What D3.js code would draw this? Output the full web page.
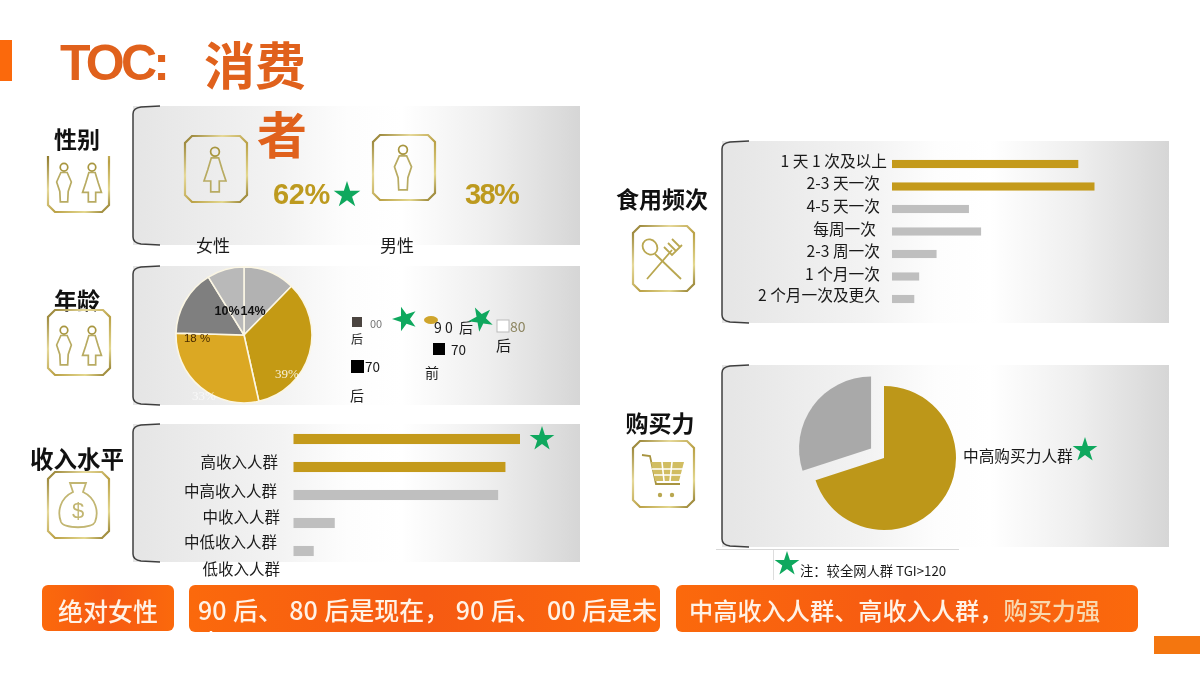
<!DOCTYPE html>
<html><head><meta charset="utf-8">
<script src="https://cdn.jsdelivr.net/npm/d3@7/dist/d3.min.js"></script>
<style>
html,body{margin:0;padding:0;background:#fff}
svg{display:block;filter:blur(0.35px)}
text{font-family:"Noto Sans CJK SC","Noto Sans",sans-serif}
</style></head><body><svg id="c" width="1200" height="675" viewBox="0 0 1200 675"></svg>
<script>
const genderLabels = ["女性", "男性"];
const genderValues = [62, 38];
const ageLabels = ["14%", "39%", "33%", "18 %", "10%"];
const ageValues = [14, 39, 33, 18, 10];
const incomeLabels = ["高收入人群", "中高收入人群", "中收入人群", "中低收入人群", "低收入人群"];
const incomeValues = [56, 52.4, 50.6, 10.2, 5];
const freqLabels = ["1 天 1 次及以上", "2-3 天一次", "4-5 天一次", "每周一次", "2-3 周一次", "1 个月一次", "2 个月一次及更久"];
const freqValues = [46, 50, 19, 22, 11, 6.7, 5.5];
const powerLabels = ["中高购买力人群", "其他"];
const powerValues = [70, 30];
const summaries = ["绝对女性", "90 后、 80 后是现在， 90 后、 00 后是未", "中高收入人群、高收入人群，", "购买力强"];

const GOLD = "#c49a1b", GREY = "#bfbfbf", ORANGE = "#fb690c", TITLE = "#e0611c", GREEN = "#0fa85e";
const svg = d3.select("#c");
const defs = svg.append("defs");
const pg = defs.append("linearGradient").attr("id", "panel");
[[0,"#e5e5e5"],[.33,"#f3f3f3"],[.48,"#fdfdfd"],[.6,"#ffffff"],[.8,"#eeeeee"],[1,"#d6d6d6"]].forEach(s => pg.append("stop").attr("offset", s[0]).attr("stop-color", s[1]));
const ig = defs.append("linearGradient").attr("id", "gold").attr("x1", 0).attr("y1", 0).attr("x2", 1).attr("y2", 1);
[[0,"#8f7a2c"],[.3,"#e6d99a"],[.55,"#b9a045"],[.8,"#e4d890"],[1,"#8a7424"]].forEach(s => ig.append("stop").attr("offset", s[0]).attr("stop-color", s[1]));
const bg = defs.append("linearGradient").attr("id", "ban");
[[0,"#fb690c"],[.5,"#f65a12"],[1,"#fb690c"]].forEach(s => bg.append("stop").attr("offset", s[0]).attr("stop-color", s[1]));

function txt(s, x, y, size, o = {}) {
  const t = svg.append("text").attr("x", x).attr("y", y).attr("font-size", size)
    .attr("text-anchor", o.anchor || "start").attr("dominant-baseline", "central")
    .attr("fill", o.fill || "#1a1a1a").attr("font-weight", o.weight || 400).text(s);
  if (o.family) t.style("font-family", o.family);
  if (o.ls !== undefined) t.attr("letter-spacing", o.ls);
  if (o.ws !== undefined) t.attr("word-spacing", o.ws);
  if (o.op) t.attr("opacity", o.op);
  t.style("white-space", "pre");
  return t;
}
function panel(x, y, w, h) {
  svg.append("rect").attr("x", x).attr("y", y).attr("width", w).attr("height", h).attr("fill", "url(#panel)");
  svg.append("path").attr("fill", "none").attr("stroke", "#3f3f3f").attr("stroke-width", 1.5)
    .attr("d", `M${x+27},${y} L${x+8},${y+1} Q${x},${y+2} ${x},${y+8} L${x},${y+h-8} Q${x},${y+h-2} ${x+8},${y+h-1} L${x+27},${y+h}`);
}
function box(x, y, w, h, openTop) {
  const c = 7;
  const d = openTop
    ? `M${x},${y} L${x},${y+h-c} L${x+c},${y+h} L${x+w-c},${y+h} L${x+w},${y+h-c} L${x+w},${y}`
    : `M${x+c},${y} L${x+w-c},${y} L${x+w},${y+c} L${x+w},${y+h-c} L${x+w-c},${y+h} L${x+c},${y+h} L${x},${y+h-c} L${x},${y+c} Z`;
  svg.append("path").attr("d", d).attr("fill", "none").attr("stroke", "url(#gold)").attr("stroke-width", 2.2);
}
const F = "M-3,-10 L3,-10 L6,0 L9,9 L3.5,9 L3.5,18 L-3.5,18 L-3.5,9 L-9,9 L-6,0 Z";
const M = "M-3,-10 L3,-10 L7,-1 L4,8 L3.5,18 L-3.5,18 L-4,8 L-7,-1 Z";
function person(cx, cy, k, kind) {
  const g = svg.append("g").attr("transform", `translate(${cx},${cy}) scale(${k})`)
    .attr("fill", "none").attr("stroke", "#b8ab62").attr("stroke-width", 1.7 / k);
  g.append("circle").attr("cy", -15).attr("r", 3.6).attr("stroke", "#a8963f");
  g.append("path").attr("d", kind === "f" ? F : M);
}
function star(cx, cy, r, rot = 0) {
  svg.append("path").attr("d", d3.symbol(d3.symbolStar, r * r / 0.8908)())
    .attr("transform", `translate(${cx},${cy}) rotate(${rot})`).attr("fill", GREEN);
}

/* header */
svg.append("rect").attr("x", 0).attr("y", 40).attr("width", 12).attr("height", 41).attr("fill", "#fb690c");
svg.append("rect").attr("x", 1154).attr("y", 636).attr("width", 46).attr("height", 18).attr("fill", "#f4760f");
txt("TOC:", 60, 63, 50, {fill: TITLE, weight: 700, family: "Liberation Sans", ls: -3.8});

/* panels */
panel(133, 106, 447, 139);
panel(133, 266, 447, 139);
panel(133, 424, 447, 138);
panel(722, 141, 447, 182);
panel(722, 365, 447, 182);

txt("消费", 204, 63, 51, {fill: TITLE, weight: 700});
txt("者", 257, 132, 50, {fill: TITLE, weight: 700});

/* left captions + icons */
const cap = {anchor: "middle", weight: 700, fill: "#111"};
txt("性别", 77, 138, 23, cap);
box(48, 156, 61, 56, true); person(64, 183, 1.05, "m"); person(92, 183, 1.05, "f");
txt("年龄", 77, 299, 23, cap);
box(48, 310, 62, 65); person(64, 346, 1.05, "m"); person(92, 346, 1.05, "f");
txt("收入水平", 77, 458, 23.5, cap);
box(48, 472, 61, 66);
svg.append("path").attr("d", "M70,483 L86,483 L83,492 C96,498 99,512 95,522 C92,529 64,529 61,522 C57,512 60,498 73,492 Z")
  .attr("fill", "none").attr("stroke", "#c2b672").attr("stroke-width", 1.8);
txt("$", 78, 510, 22, {anchor: "middle", fill: "#c2b672", family: "Liberation Sans"});
txt("食用频次", 662, 198, 23, cap);
box(633, 226, 61, 65);
svg.append("g").attr("fill", "none").attr("stroke", "#b9a750").attr("stroke-width", 1.8).call(g => {
  g.append("ellipse").attr("cx", 650).attr("cy", 247).attr("rx", 7).attr("ry", 8).attr("transform", "rotate(-40 650 247)");
  g.append("path").attr("d", "M655,254 L681,279");
  g.append("path").attr("d", "M647,279 L672,250 M664,247 L672,255 L682,245 M668,243 L676,251 M672,239 L680,247");
});
txt("购买力", 660, 422, 23, cap);
box(633, 441, 61, 66);
svg.append("g").call(g => {
  g.append("path").attr("d", "M642,455 L650,456 L656,484 L680,484").attr("fill", "none").attr("stroke", "#a89440").attr("stroke-width", 1.8);
  g.append("path").attr("d", "M651,462 L684,462 L679,481 L655,481 Z").attr("fill", "#d1bd62");
  g.append("path").attr("d", "M652,469 L683,469 M654,475 L681,475 M662,462 L664,481 M672,462 L670,481").attr("stroke", "#fff").attr("stroke-width", 1.6);
  g.append("circle").attr("cx", 660).attr("cy", 495).attr("r", 2.2).attr("fill", "#b9a750");
  g.append("circle").attr("cx", 672).attr("cy", 495).attr("r", 2.2).attr("fill", "#b9a750");
});

/* gender */
box(185, 136, 62, 66); person(215, 170, 1.22, "f");
box(373, 135, 62, 65); person(403, 168, 1.22, "m");
txt(genderValues[0] + "%", 273, 194, 29, {fill: "#bd9a1f", weight: 700, family: "Liberation Sans", ls: -0.4});
star(347, 195, 14);
txt(genderValues[1] + "%", 465, 194, 29, {fill: "#bd9a1f", weight: 700, family: "Liberation Sans", ls: -1.6});
txt(genderLabels[0], 213, 244, 17, {anchor: "middle"});
txt(genderLabels[1], 397, 244, 17, {anchor: "middle"});

/* age pie */
const agePie = d3.pie().sort(null)(ageValues);
const ageColors = ["#b2b2b2", "#c49a14", "#dba823", "#7f7f7f", "#b9b9b9"];
const ageArc = d3.arc().innerRadius(0).outerRadius(68);
svg.append("g").attr("transform", "translate(244,335)").selectAll("path").data(agePie).join("path")
  .attr("d", ageArc).attr("fill", (d, i) => ageColors[i]).attr("stroke", "#fbf6e4").attr("stroke-width", 1.6);
txt(ageLabels[4], 227, 311, 12.5, {anchor: "middle", weight: 700, fill: "#111", family: "Liberation Sans"});
txt(ageLabels[0], 253, 311, 12.5, {anchor: "middle", weight: 700, fill: "#111", family: "Liberation Sans"});
txt(ageLabels[3], 197, 338, 11.5, {anchor: "middle", fill: "#4a2c00", family: "Liberation Sans"});
txt(ageLabels[1], 287, 373, 13, {anchor: "middle", fill: "#fff", op: .85, family: "Liberation Serif"});
txt(ageLabels[2], 204, 395, 13, {anchor: "middle", fill: "#fff", op: .65, family: "Liberation Serif"});

/* age legend (as printed) */
svg.append("rect").attr("x", 352).attr("y", 317).attr("width", 10).attr("height", 10).attr("fill", "#4b4440");
txt("00", 370, 323, 11, {fill: "#777"});
txt("后", 351, 338, 12);
star(405, 319, 13, -18);
svg.append("ellipse").attr("cx", 431).attr("cy", 320).attr("rx", 7).attr("ry", 4).attr("fill", "#cfa52c");
txt("9 0  后", 434, 327, 14);
star(481, 319, 13, -28);
svg.append("rect").attr("x", 497).attr("y", 320).attr("width", 12).attr("height", 12).attr("fill", "#fff").attr("stroke", "#bbb");
txt("80", 510, 326, 14, {fill: "#8c8560"});
txt("后", 496, 344, 15);
svg.append("rect").attr("x", 433).attr("y", 343).attr("width", 12).attr("height", 12).attr("fill", "#000");
txt("70", 451, 349, 13.5);
txt("前", 425, 372, 14);
svg.append("rect").attr("x", 351).attr("y", 360).attr("width", 13).attr("height", 13).attr("fill", "#000");
txt("70", 365, 366, 13.5);
txt("后", 350, 395, 14);

/* income bars */
const xIncome = d3.scaleLinear().domain([0, 56]).range([293.5, 520]);
const yIncome = d3.scaleBand().domain(incomeLabels).range([425, 565]).paddingInner(.64).paddingOuter(.32);
svg.selectAll(".inc").data(incomeValues).join("rect").attr("class", "inc")
  .attr("x", xIncome(0)).attr("y", (d, i) => yIncome(incomeLabels[i]))
  .attr("width", d => xIncome(d) - xIncome(0)).attr("height", yIncome.bandwidth())
  .attr("fill", (d, i) => i < 2 ? GOLD : GREY);
star(542, 439, 13);
const incomeLabelRight = [278, 277, 280, 277, 280];
const incomeLabelMid = [461, 490, 516, 541, 568];
incomeLabels.forEach((s, i) => txt(s, incomeLabelRight[i], incomeLabelMid[i], 15.5, {anchor: "end"}));

/* frequency bars */
const xFreq = d3.scaleLinear().domain([0, 50]).range([892, 1094.5]);
const yFreq = d3.scaleBand().domain(freqLabels).range([152.75, 310.25]).paddingInner(.64).paddingOuter(.32);
svg.selectAll(".frq").data(freqValues).join("rect").attr("class", "frq")
  .attr("x", xFreq(0)).attr("y", (d, i) => yFreq(freqLabels[i]))
  .attr("width", d => xFreq(d) - xFreq(0)).attr("height", yFreq.bandwidth())
  .attr("fill", (d, i) => i < 2 ? GOLD : GREY);
const freqLabelRight = [887, 880, 880, 876, 880, 880, 880];
const freqLabelMid = [160, 182, 205, 228, 250, 273, 294];
freqLabels.forEach((s, i) => txt(s, freqLabelRight[i], freqLabelMid[i], 15.7, {anchor: "end"}));

/* purchasing power pie */
const powPie = d3.pie().sort(null)(powerValues);
const powArc = d3.arc().innerRadius(0).outerRadius(72);
svg.append("g").attr("transform", "translate(884,458)").selectAll("path").data(powPie).join("path")
  .attr("d", powArc).attr("fill", (d, i) => i ? "#a9a9a9" : "#bd9719")
  .attr("transform", (d, i) => {
    if (!i) return null;
    const m = (d.startAngle + d.endAngle) / 2;
    return `translate(${Math.sin(m) * 16},${-Math.cos(m) * 16})`;
  });
txt(powerLabels[0], 963, 455, 15.7);
star(1085, 450, 13);

/* note */
svg.append("rect").attr("x", 716).attr("y", 549).attr("width", 243).attr("height", 1).attr("fill", "#d8d8d8");
svg.append("rect").attr("x", 773).attr("y", 550).attr("width", 1).attr("height", 30).attr("fill", "#ddd");
star(787, 564, 13);
txt("注：较全网人群 TGI>120", 800, 570, 13.3);

/* summary bars */
function banner(x, y, w, h) {
  svg.append("rect").attr("x", x).attr("y", y).attr("width", w).attr("height", h).attr("rx", 6).attr("fill", "url(#ban)");
}
banner(42, 585, 132, 46);
banner(189, 585, 471, 47);
banner(676, 585, 462, 47);
txt(summaries[0], 108, 610, 25, {anchor: "middle", fill: "#fff2e6", weight: 500});
txt(summaries[1], 198, 609, 25, {fill: "#fff2e6", weight: 500, ws: 0.8});
txt("来", 199, 641, 24, {fill: "#fff", weight: 500});
const t3 = txt(summaries[2], 689, 609, 24.2, {fill: "#fff2e6", weight: 500});
t3.append("tspan").attr("fill", "#f8d9b0").text(summaries[3]);
</script></body></html>
